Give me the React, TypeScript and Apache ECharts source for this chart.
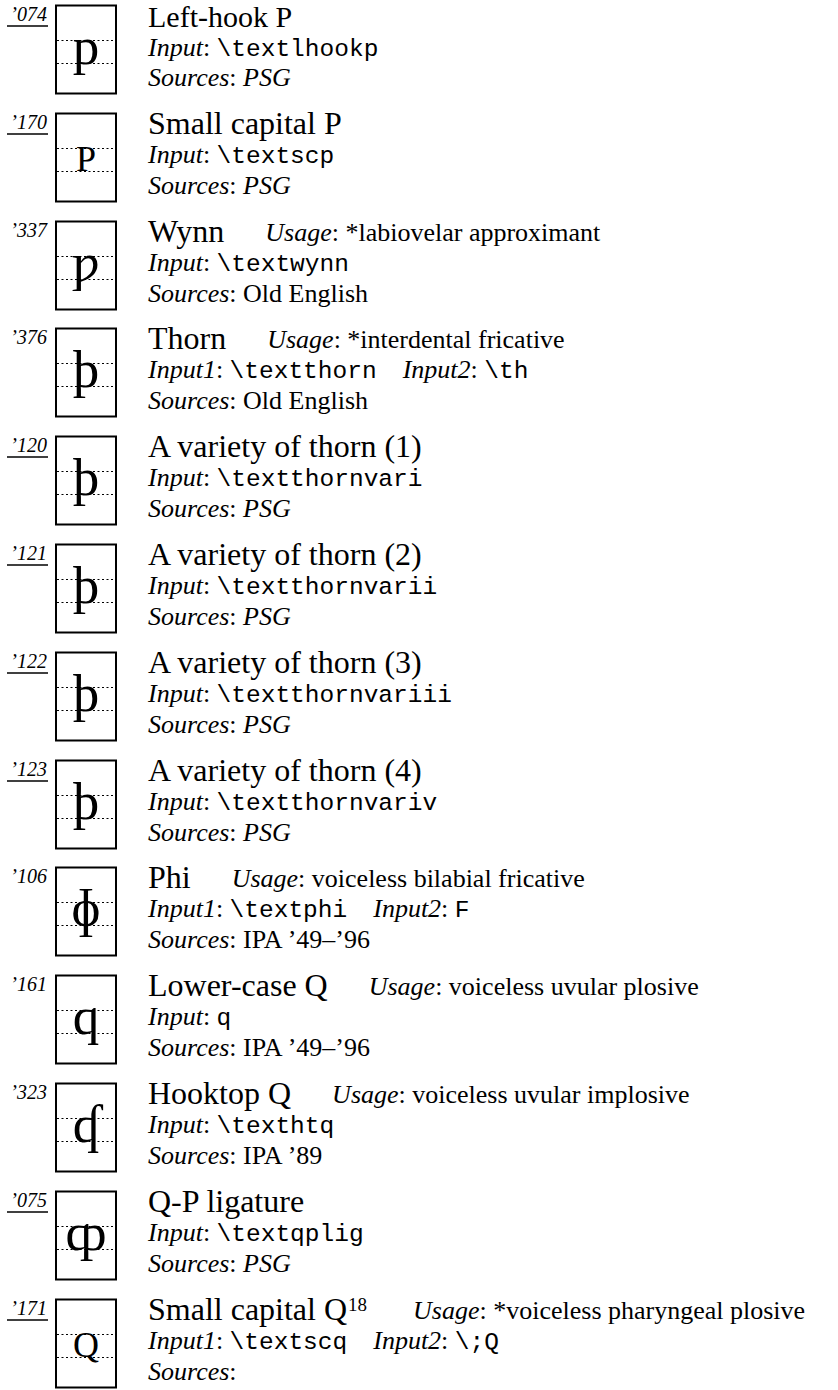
import React, { useEffect, useRef } from "react";
import * as echarts from "echarts";

const codes = ["’074", "’170", "’337", "’376", "’120", "’121", "’122", "’123", "’106", "’161", "’323", "’075", "’171"];
const underlined = [true, true, false, false, true, true, true, true, false, false, false, true, true];
const glyphs = ["p", "P", "ƿ", "þ", "þ", "þ", "þ", "þ", "ɸ", "q", "ʠ", "ȹ", "Q"];
const smallCaps = [false, true, false, false, false, false, false, false, false, false, false, false, true];
const names = [
  "Left-hook P", "Small capital P", "Wynn", "Thorn",
  "A variety of thorn (1)", "A variety of thorn (2)", "A variety of thorn (3)", "A variety of thorn (4)",
  "Phi", "Lower-case Q", "Hooktop Q", "Q-P ligature", "Small capital Q",
];
const footnotes = ["", "", "", "", "", "", "", "", "", "", "", "", "18"];
const usages = [
  "", "", "*labiovelar approximant", "*interdental fricative", "", "", "", "",
  "voiceless bilabial fricative", "voiceless uvular plosive", "voiceless uvular implosive", "", "*voiceless pharyngeal plosive",
];
const inputs1 = [
  "\\textlhookp", "\\textscp", "\\textwynn", "\\textthorn", "\\textthornvari", "\\textthornvarii",
  "\\textthornvariii", "\\textthornvariv", "\\textphi", "q", "\\texthtq", "\\textqplig", "\\textscq",
];
const inputs2 = ["", "", "", "\\th", "", "", "", "", "F", "", "", "", "\\;Q"];
const sources = ["PSG", "PSG", "Old English", "Old English", "PSG", "PSG", "PSG", "PSG", "IPA ’49–’96", "IPA ’49–’96", "IPA ’89", "PSG", ""];
const sourcesItalic = [true, true, false, false, true, true, true, true, false, false, false, true, false];

const SERIF = "'Liberation Serif', 'DejaVu Serif', serif";
const MONO = "'Liberation Mono', 'DejaVu Sans Mono', monospace";

type Seg = { text: string; kind: string; gap?: number };

const FONTS: Record<string, { family: string; size: number; italic: boolean; k: number; lh: number; dy: number }> = {
  title: { family: SERIF, size: 32, italic: false, k: 0.3375, lh: 26, dy: 0 },
  title0: { family: SERIF, size: 30, italic: false, k: 0.3375, lh: 24, dy: 0 },
  sup: { family: SERIF, size: 19, italic: false, k: 0.3375, lh: 19, dy: -9 },
  it: { family: SERIF, size: 26, italic: true, k: 0.3375, lh: 26, dy: 0 },
  rm: { family: SERIF, size: 26, italic: false, k: 0.3375, lh: 26, dy: 0 },
  mono: { family: MONO, size: 24.5, italic: false, k: 0.2665, lh: 24, dy: 0 },
};

let measureCtx: CanvasRenderingContext2D | null = null;
function measure(text: string, kind: string) {
  if (!measureCtx) measureCtx = document.createElement("canvas").getContext("2d");
  const f = FONTS[kind];
  measureCtx!.font = `${f.italic ? "italic " : ""}${f.size}px ${f.family}`;
  return measureCtx!.measureText(text).width;
}

function lineEls(segs: Seg[], x0: number, baseline: number) {
  const out: any[] = [];
  let x = x0;
  for (const s of segs) {
    x += s.gap || 0;
    if (!s.text) continue;
    const f = FONTS[s.kind];
    out.push({
      type: "text", x, y: baseline + f.dy - f.k * f.size,
      style: {
        text: s.text, fontFamily: f.family, fontSize: f.size, fontStyle: f.italic ? "italic" : "normal",
        lineHeight: f.lh, fill: "#000", align: "left", verticalAlign: "middle",
      },
    });
    x += measure(s.text, s.kind);
  }
  return out;
}

function buildGraphics() {
  const els: any[] = [];
  const step = 107.8;
  for (let i = 0; i < names.length; i++) {
    const T = Math.round(5 + step * i);
    // code label
    els.push({
      type: "text", x: 47, y: T + 9,
      style: { text: codes[i], fontFamily: SERIF, fontStyle: "italic", fontSize: 20, lineHeight: 20, fill: "#000", align: "right", verticalAlign: "middle" },
    });
    if (underlined[i]) {
      els.push({ type: "line", shape: { x1: 7, y1: T + 21, x2: 48, y2: T + 21 }, style: { stroke: "#000", lineWidth: 1.6 } });
    }
    // glyph box
    els.push({ type: "rect", shape: { x: 56, y: T + 0.5, width: 60, height: 88 }, style: { fill: "none", stroke: "#000", lineWidth: 2 } });
    els.push({ type: "line", shape: { x1: 57, y1: T + 35.5, x2: 115, y2: T + 35.5 }, style: { stroke: "#000", lineWidth: 1, lineDash: [2, 2.5] } });
    els.push({ type: "line", shape: { x1: 57, y1: T + 58.5, x2: 115, y2: T + 58.5 }, style: { stroke: "#000", lineWidth: 1, lineDash: [2, 2.5] } });
    const gs = smallCaps[i] ? 36 : 53;
    els.push({
      type: "text", x: 86, y: T + 58.5 - 0.3375 * gs,
      style: { text: glyphs[i], fontFamily: SERIF, fontSize: gs, lineHeight: gs, fill: "#000", align: "center", verticalAlign: "middle" },
    });
    // name line
    const first = i === 0;
    const l1: Seg[] = [{ text: names[i], kind: first ? "title0" : "title" }];
    if (footnotes[i]) l1.push({ text: footnotes[i], kind: "sup", gap: 1 });
    if (usages[i]) {
      l1.push({ text: "Usage", kind: "it", gap: footnotes[i] ? 46 : 41 });
      l1.push({ text: ": " + usages[i], kind: "rm" });
    }
    // input line
    const l2: Seg[] = [
      { text: inputs2[i] ? "Input1" : "Input", kind: "it" },
      { text: ": ", kind: "rm" },
      { text: inputs1[i], kind: "mono" },
    ];
    if (inputs2[i]) {
      l2.push({ text: "Input2", kind: "it", gap: 26 });
      l2.push({ text: ": ", kind: "rm" });
      l2.push({ text: inputs2[i], kind: "mono" });
    }
    // sources line
    const l3: Seg[] = [
      { text: "Sources", kind: "it" },
      { text: ": ", kind: "rm" },
      { text: sources[i], kind: sourcesItalic[i] ? "it" : "rm" },
    ];
    els.push(...lineEls(l1, 148, first ? 27 : T + 20.5));
    els.push(...lineEls(l2, 148, first ? T + 51 : T + 50));
    els.push(...lineEls(l3, 148, T + 81));
  }
  return els;
}

export default function App() {
  const ref = useRef<HTMLDivElement>(null);
  useEffect(() => {
    document.body.style.margin = "0";
    const chart = echarts.init(ref.current!, null, { renderer: "svg" });
    chart.setOption({
      animation: false,
      backgroundColor: "#fff",
      graphic: { elements: buildGraphics() },
    });
    return () => chart.dispose();
  }, []);
  return <div ref={ref} style={{ width: 838, height: 1390 }} />;
}
